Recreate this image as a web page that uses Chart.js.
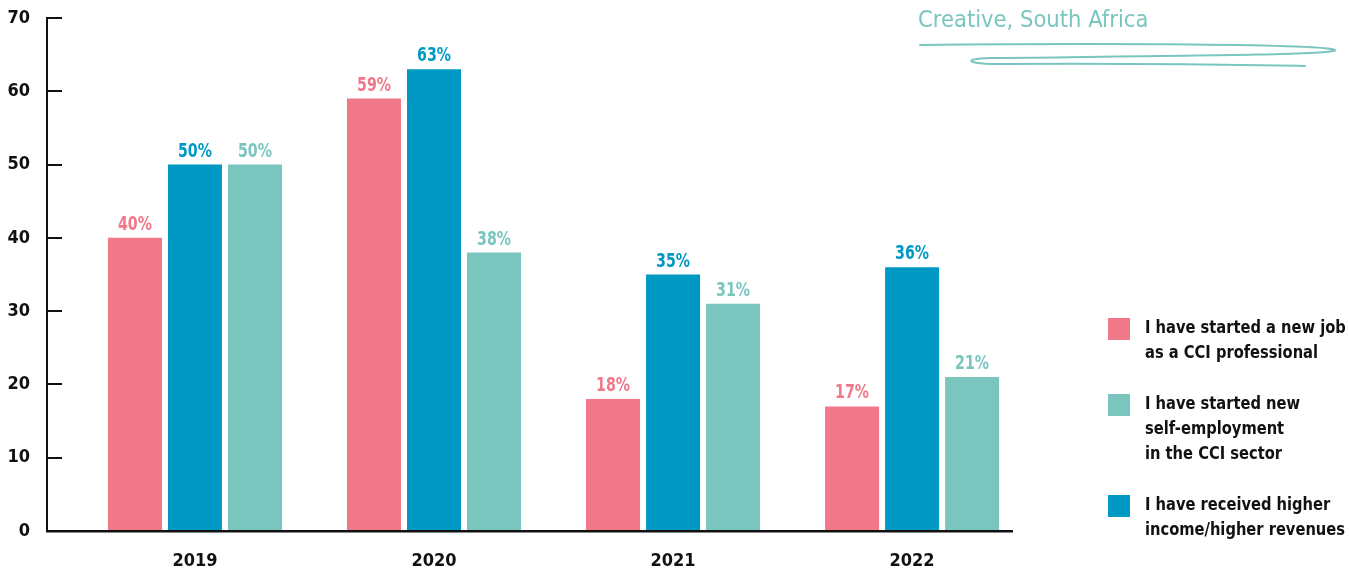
<!DOCTYPE html>
<html>
<head>
<meta charset="utf-8">
<script src="https://cdn.jsdelivr.net/npm/chart.js@4"></script>
<style>
  body { margin: 0; background: #fff; }
  #wrap { position: relative; width: 1349px; height: 572px; font-family: "DejaVu Sans Condensed", sans-serif; }
  #title { position: absolute; left: 918px; top: 5px; font-size: 23.5px; color: #7ac6bf; white-space: nowrap; }
  #legend { position: absolute; left: 1108px; top: 315px; }
  .item { display: flex; align-items: flex-start; margin-bottom: 26px; }
  .box { width: 22px; height: 22px; margin-top: 3px; margin-right: 15px; flex: none; }
  .txt { font-size: 17px; font-weight: bold; line-height: 25px; color: #111; white-space: nowrap; transform: scaleX(0.96); transform-origin: left top; }
</style>
</head>
<body>
<div id="wrap">
  <canvas id="graph"></canvas>
  <div id="title">Creative, South Africa</div>
  <div id="legend"></div>
</div>
<script>
var years = ["2019", "2020", "2021", "2022"];
var newJob = [40, 59, 18, 17];
var higherIncome = [50, 63, 35, 36];
var selfEmployment = [50, 38, 31, 21];
var yTicks = [0, 10, 20, 30, 40, 50, 60, 70];

var pink = "#f07888";
var blue = "#0099c4";
var teal = "#7ac6bf";

// legend order differs from bar order
var legendItems = [
  { color: pink, lines: ["I have started a new job", "as a CCI professional"] },
  { color: teal, lines: ["I have started new", "self-employment", "in the CCI sector"] },
  { color: blue, lines: ["I have received higher", "income/higher revenues"] }
];

var legend = document.getElementById("legend");
legendItems.forEach(function(it) {
  var row = document.createElement("div");
  row.className = "item";
  var box = document.createElement("div");
  box.className = "box";
  box.style.background = it.color;
  var txt = document.createElement("div");
  txt.className = "txt";
  txt.innerHTML = it.lines.join("<br>");
  row.appendChild(box);
  row.appendChild(txt);
  legend.appendChild(row);
});

function points(arr) {
  return arr.map(function(v, i) { return { x: i, y: v }; });
}

var fontFam = '"DejaVu Sans Condensed", sans-serif';

var valueLabels = {
  id: "valueLabels",
  afterDatasetsDraw: function(chart) {
    var ctx = chart.ctx;
    chart.data.datasets.forEach(function(ds, di) {
      var meta = chart.getDatasetMeta(di);
      meta.data.forEach(function(bar, i) {
        ctx.save();
        ctx.font = "bold 19px " + fontFam;
        ctx.textAlign = "center";
        ctx.textBaseline = "alphabetic";
        ctx.fillStyle = ds.backgroundColor;
        ctx.translate(bar.x, bar.y - 8);
        ctx.scale(0.83, 1);
        ctx.fillText(ds.data[i].y + "%", 0, 0);
        ctx.restore();
      });
    });
  }
};

// hand drawn underline below the title
var scribble = {
  id: "scribble",
  afterDraw: function(chart) {
    var ctx = chart.ctx;
    ctx.save();
    ctx.strokeStyle = teal;
    ctx.lineWidth = 2;
    ctx.lineCap = "round";
    ctx.beginPath();
    ctx.moveTo(920, 45);
    ctx.bezierCurveTo(1100, 43, 1325, 44, 1335, 50);
    ctx.bezierCurveTo(1338, 55, 1160, 56, 990, 58);
    ctx.bezierCurveTo(960, 59, 968, 64, 1000, 64);
    ctx.bezierCurveTo(1150, 63, 1250, 65, 1305, 66);
    ctx.stroke();
    ctx.restore();
  }
};

var chart = new Chart(document.getElementById("graph"), {
  type: "bar",
  data: {
    datasets: [
      { label: "I have started a new job as a CCI professional", data: points(newJob), backgroundColor: pink },
      { label: "I have received higher income/higher revenues", data: points(higherIncome), backgroundColor: blue },
      { label: "I have started new self-employment in the CCI sector", data: points(selfEmployment), backgroundColor: teal }
    ]
  },
  options: {
    responsive: true,
    maintainAspectRatio: false,
    animation: false,
    categoryPercentage: 0.7531,
    barPercentage: 0.9,
    layout: { padding: { top: 18, right: 337, bottom: 0, left: 0 } },
    plugins: {
      legend: { display: false },
      tooltip: { enabled: false }
    },
    scales: {
      x: {
        type: "linear",
        offset: false,
        min: -0.619,
        max: 3.418,
        afterFit: function(s) { s.height = 41; },
        grid: { display: false, drawTicks: false, offset: false },
        border: { color: "#111", width: 2.5 },
        ticks: {
          stepSize: 1,
          includeBounds: false,
          padding: 20,
          color: "#111",
          font: { family: fontFam, size: 18, weight: "bold" },
          callback: function(v) { return years[v] !== undefined && Number.isInteger(v) ? years[v] : ""; }
        }
      },
      y: {
        min: yTicks[0],
        max: yTicks[yTicks.length - 1],
        afterFit: function(s) {
          s.width = 47;
          s.paddingTop = 0;
          s.paddingBottom = 0;
        },
        border: { color: "#111", width: 2 },
        grid: { drawOnChartArea: false, drawTicks: true, tickLength: -15, color: "#111", lineWidth: 2 },
        ticks: {
          stepSize: 10,
          padding: 32,
          color: "#111",
          font: { family: fontFam, size: 18, weight: "bold" }
        }
      }
    }
  },
  plugins: [valueLabels, scribble]
});
</script>
</body>
</html>
